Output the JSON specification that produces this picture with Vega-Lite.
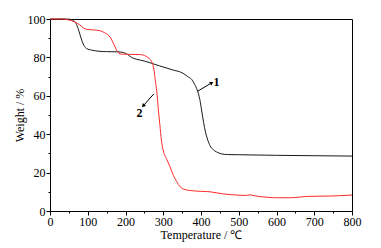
{
  "$schema": "https://vega.github.io/schema/vega-lite/v6.json",
  "autosize": {"type": "none"},
  "width": 302,
  "height": 192,
  "padding": {"left": 50, "top": 19, "right": 29, "bottom": 37},
  "background": "white",
  "config": {
    "view": {"stroke": "black", "strokeWidth": 1},
    "axis": {
      "grid": false,
      "domainColor": "black",
      "tickColor": "black",
      "labelColor": "black",
      "titleColor": "black",
      "labelFont": "Liberation Serif",
      "titleFont": "Liberation Serif",
      "labelFontSize": 12,
      "titleFontSize": 12,
      "titleFontWeight": "normal",
      "labelOverlap": false
    }
  },
  "resolve": {"axis": {"x": "independent", "y": "independent"}},
  "datasets": {
    "curves": [
      {"s": "1", "t": 0, "w": 100}, {"s": "1", "t": 40, "w": 100}, {"s": "1", "t": 55, "w": 99.8},
      {"s": "1", "t": 62, "w": 99.2}, {"s": "1", "t": 70, "w": 97.3}, {"s": "1", "t": 77, "w": 93.5},
      {"s": "1", "t": 84, "w": 89}, {"s": "1", "t": 90, "w": 86.2}, {"s": "1", "t": 97, "w": 84.6},
      {"s": "1", "t": 110, "w": 83.8}, {"s": "1", "t": 130, "w": 83.2}, {"s": "1", "t": 150, "w": 83},
      {"s": "1", "t": 180, "w": 82.9}, {"s": "1", "t": 195, "w": 82.5}, {"s": "1", "t": 205, "w": 81.6},
      {"s": "1", "t": 216, "w": 80}, {"s": "1", "t": 230, "w": 79}, {"s": "1", "t": 250, "w": 78.1},
      {"s": "1", "t": 265, "w": 77.2}, {"s": "1", "t": 290, "w": 75.6}, {"s": "1", "t": 310, "w": 74.4},
      {"s": "1", "t": 330, "w": 73.2}, {"s": "1", "t": 344, "w": 72.5}, {"s": "1", "t": 355, "w": 71.4},
      {"s": "1", "t": 365, "w": 70}, {"s": "1", "t": 375, "w": 68.6}, {"s": "1", "t": 383, "w": 66},
      {"s": "1", "t": 390, "w": 63}, {"s": "1", "t": 397, "w": 58}, {"s": "1", "t": 402, "w": 52},
      {"s": "1", "t": 407, "w": 46}, {"s": "1", "t": 412, "w": 41}, {"s": "1", "t": 417, "w": 37.5},
      {"s": "1", "t": 424, "w": 34}, {"s": "1", "t": 432, "w": 32}, {"s": "1", "t": 441, "w": 30.8},
      {"s": "1", "t": 455, "w": 29.7}, {"s": "1", "t": 470, "w": 29.4}, {"s": "1", "t": 500, "w": 29.3},
      {"s": "1", "t": 600, "w": 29}, {"s": "1", "t": 700, "w": 28.8}, {"s": "1", "t": 800, "w": 28.6},
      {"s": "2", "t": 0, "w": 100}, {"s": "2", "t": 30, "w": 100}, {"s": "2", "t": 50, "w": 99.5},
      {"s": "2", "t": 65, "w": 98.5}, {"s": "2", "t": 79, "w": 96.9}, {"s": "2", "t": 90, "w": 95.2},
      {"s": "2", "t": 97, "w": 94.6}, {"s": "2", "t": 115, "w": 94.3}, {"s": "2", "t": 132, "w": 93.9},
      {"s": "2", "t": 145, "w": 92.8}, {"s": "2", "t": 159, "w": 90.6}, {"s": "2", "t": 170, "w": 86.5},
      {"s": "2", "t": 181, "w": 82.4}, {"s": "2", "t": 190, "w": 81.7}, {"s": "2", "t": 203, "w": 81.6},
      {"s": "2", "t": 238, "w": 81.5}, {"s": "2", "t": 255, "w": 80.5}, {"s": "2", "t": 265, "w": 79},
      {"s": "2", "t": 271, "w": 77}, {"s": "2", "t": 275, "w": 74}, {"s": "2", "t": 279, "w": 68},
      {"s": "2", "t": 283, "w": 62}, {"s": "2", "t": 287, "w": 53}, {"s": "2", "t": 291, "w": 45},
      {"s": "2", "t": 295, "w": 37}, {"s": "2", "t": 300, "w": 31.5}, {"s": "2", "t": 309, "w": 27},
      {"s": "2", "t": 318, "w": 23}, {"s": "2", "t": 327, "w": 18.5}, {"s": "2", "t": 336, "w": 15.2},
      {"s": "2", "t": 345, "w": 12.6}, {"s": "2", "t": 355, "w": 11.3}, {"s": "2", "t": 370, "w": 10.7},
      {"s": "2", "t": 385, "w": 10.4}, {"s": "2", "t": 405, "w": 10.2}, {"s": "2", "t": 424, "w": 10},
      {"s": "2", "t": 440, "w": 9.5}, {"s": "2", "t": 459, "w": 8.9}, {"s": "2", "t": 480, "w": 8.5},
      {"s": "2", "t": 503, "w": 8.2}, {"s": "2", "t": 518, "w": 8.1}, {"s": "2", "t": 530, "w": 8.4},
      {"s": "2", "t": 545, "w": 7.8}, {"s": "2", "t": 560, "w": 7.4}, {"s": "2", "t": 580, "w": 7.1},
      {"s": "2", "t": 600, "w": 6.9}, {"s": "2", "t": 636, "w": 6.9}, {"s": "2", "t": 660, "w": 7.2},
      {"s": "2", "t": 680, "w": 7.6}, {"s": "2", "t": 710, "w": 7.7}, {"s": "2", "t": 742, "w": 7.8},
      {"s": "2", "t": 770, "w": 8}, {"s": "2", "t": 800, "w": 8.3}
    ],
    "arrows": [
      {"s": "1", "t": 392, "w": 62.5, "t2": 427, "w2": 66.6},
      {"s": "2", "t": 275, "w": 61, "t2": 248, "w2": 55}
    ],
    "heads": [
      {"s": "1", "t": 427, "w": 66.6},
      {"s": "2", "t": 248, "w": 55}
    ],
    "labels": [
      {"s": "1", "t": 441, "w": 67.4, "label": "1"},
      {"s": "2", "t": 237, "w": 51, "label": "2"}
    ]
  },
  "layer": [
    {
      "data": {"name": "curves"},
      "mark": {"type": "line", "strokeWidth": 1, "interpolate": "monotone"},
      "encoding": {
        "x": {
          "field": "t", "type": "quantitative",
          "scale": {"domain": [0, 800], "nice": false},
          "axis": {
            "orient": "bottom",
            "title": "Temperature / ℃",
            "values": [0, 100, 200, 300, 400, 500, 600, 700, 800],
            "format": "d",
            "labelOverlap": false,
            "tickSize": 4,
            "labelPadding": 1,
            "titlePadding": 2,
            "labelFlush": false
          }
        },
        "y": {
          "field": "w", "type": "quantitative",
          "scale": {"domain": [0, 100], "nice": false},
          "axis": {
            "orient": "left",
            "title": "Weight / %",
            "values": [0, 20, 40, 60, 80, 100],
            "format": "d",
            "labelOverlap": false,
            "tickSize": 4,
            "labelPadding": 1,
            "titlePadding": 1,
            "labelFlush": false
          }
        },
        "color": {
          "field": "s", "type": "nominal",
          "scale": {"domain": ["1", "2"], "range": ["#1a1a1a", "#ff2a2a"]},
          "legend": null
        }
      }
    },
    {
      "data": {"name": "arrows"},
      "mark": {"type": "rule", "color": "black", "strokeWidth": 1},
      "encoding": {
        "x": {
          "field": "t", "type": "quantitative",
          "axis": {
            "orient": "bottom",
            "title": null,
            "values": [50, 150, 250, 350, 450, 550, 650, 750],
            "labels": false,
            "domain": false,
            "tickSize": 2
          }
        },
        "y": {
          "field": "w", "type": "quantitative",
          "axis": {
            "orient": "left",
            "title": null,
            "values": [10, 30, 50, 70, 90],
            "labels": false,
            "domain": false,
            "tickSize": 2
          }
        },
        "x2": {"field": "t2"},
        "y2": {"field": "w2"}
      }
    },
    {
      "data": {"name": "heads"},
      "transform": [{"filter": "datum.s === '1'"}],
      "mark": {"type": "point", "shape": "triangle", "filled": true, "color": "black", "size": 18, "angle": 60, "opacity": 1},
      "encoding": {
        "x": {"field": "t", "type": "quantitative", "axis": null},
        "y": {"field": "w", "type": "quantitative", "axis": null}
      }
    },
    {
      "data": {"name": "heads"},
      "transform": [{"filter": "datum.s === '2'"}],
      "mark": {"type": "point", "shape": "triangle", "filled": true, "color": "black", "size": 18, "angle": 222, "opacity": 1},
      "encoding": {
        "x": {"field": "t", "type": "quantitative", "axis": null},
        "y": {"field": "w", "type": "quantitative", "axis": null}
      }
    },
    {
      "data": {"name": "labels"},
      "mark": {"type": "text", "font": "Liberation Serif", "fontSize": 12, "fontWeight": "bold", "color": "black"},
      "encoding": {
        "x": {"field": "t", "type": "quantitative", "axis": null},
        "y": {"field": "w", "type": "quantitative", "axis": null},
        "text": {"field": "label"}
      }
    }
  ]
}
